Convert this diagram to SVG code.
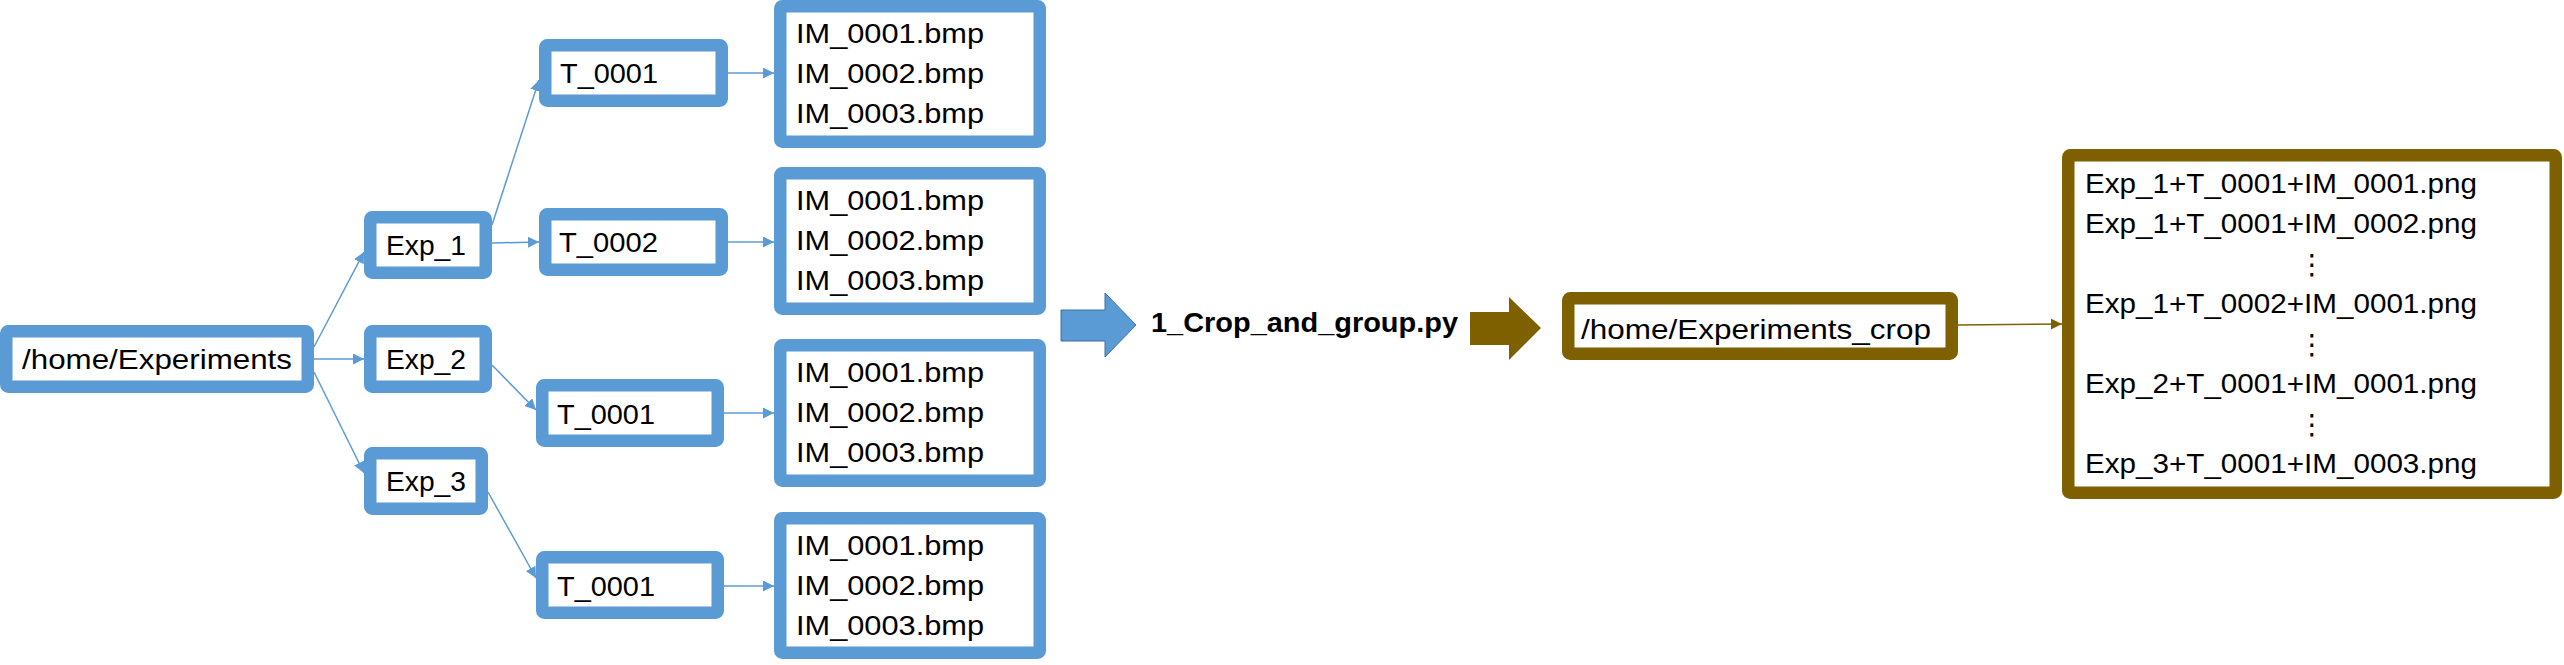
<svg xmlns="http://www.w3.org/2000/svg" width="2564" height="665" viewBox="0 0 2564 665">
<defs>
<style>
.b{fill:#fff;stroke:#5B9BD5;stroke-width:12.5}
.br{fill:#fff;stroke:#7F6000;stroke-width:12.5}
.t{font-family:"Liberation Sans",Arial,sans-serif;font-size:28px;fill:#000}
.c{fill:none;stroke:#5B9BD5;stroke-width:1.5}
.cb{fill:none;stroke:#7F6000;stroke-width:1.5}
.d{font-family:"DejaVu Sans",sans-serif;font-size:28px;fill:#000}
</style>
<marker id="ab" viewBox="0 0 10 10" refX="10" refY="5" markerWidth="11" markerHeight="11" markerUnits="userSpaceOnUse" orient="auto"><path d="M0,0 L10,5 L0,10 z" fill="#5B9BD5"/></marker>
<marker id="abr" viewBox="0 0 10 10" refX="10" refY="5" markerWidth="11" markerHeight="11" markerUnits="userSpaceOnUse" orient="auto"><path d="M0,0 L10,5 L0,10 z" fill="#7F6000"/></marker>
</defs>
<rect width="2564" height="665" fill="#fff"/>
<g id="connectors">
<line class="c" x1="314" y1="347" x2="364" y2="252" marker-end="url(#ab)"/>
<line class="c" x1="314" y1="359" x2="364" y2="359" marker-end="url(#ab)"/>
<line class="c" x1="314" y1="372" x2="364" y2="473" marker-end="url(#ab)"/>
<line class="c" x1="492" y1="225" x2="539" y2="80" marker-end="url(#ab)"/>
<line class="c" x1="492" y1="243" x2="539" y2="242" marker-end="url(#ab)"/>
<line class="c" x1="492" y1="365" x2="536" y2="410" marker-end="url(#ab)"/>
<line class="c" x1="488" y1="492" x2="536" y2="578" marker-end="url(#ab)"/>
<line class="c" x1="728" y1="73" x2="774" y2="73" marker-end="url(#ab)"/>
<line class="c" x1="728" y1="242" x2="774" y2="242" marker-end="url(#ab)"/>
<line class="c" x1="724" y1="413" x2="774" y2="413" marker-end="url(#ab)"/>
<line class="c" x1="724" y1="586" x2="774" y2="586" marker-end="url(#ab)"/>
<line class="cb" x1="1958" y1="325" x2="2062" y2="324" marker-end="url(#abr)"/>
</g>
<g id="root"><rect class="b" x="6.25" y="331.25" width="301.5" height="55.5" rx="2"/><text class="t" x="22" y="369" textLength="270" lengthAdjust="spacingAndGlyphs">/home/Experiments</text></g>
<g id="exp1"><rect class="b" x="370.25" y="217.25" width="115.5" height="55.5" rx="2"/><text class="t" x="386" y="255" textLength="80" lengthAdjust="spacingAndGlyphs">Exp_1</text></g>
<g id="exp2"><rect class="b" x="370.25" y="331.25" width="115.5" height="55.5" rx="2"/><text class="t" x="386" y="369" textLength="80" lengthAdjust="spacingAndGlyphs">Exp_2</text></g>
<g id="exp3"><rect class="b" x="370.25" y="453.25" width="111.5" height="55.5" rx="2"/><text class="t" x="386" y="491" textLength="80" lengthAdjust="spacingAndGlyphs">Exp_3</text></g>
<g id="t1_1"><rect class="b" x="545.25" y="45.25" width="176.5" height="55.5" rx="2"/><text class="t" x="560" y="83" textLength="98" lengthAdjust="spacingAndGlyphs">T_0001</text></g>
<g id="t1_2"><rect class="b" x="545.25" y="214.25" width="176.5" height="55.5" rx="2"/><text class="t" x="559" y="252" textLength="99" lengthAdjust="spacingAndGlyphs">T_0002</text></g>
<g id="t2_1"><rect class="b" x="542.25" y="385.25" width="175.5" height="55.5" rx="2"/><text class="t" x="557" y="424" textLength="98" lengthAdjust="spacingAndGlyphs">T_0001</text></g>
<g id="t3_1"><rect class="b" x="542.25" y="557.25" width="175.5" height="55.5" rx="2"/><text class="t" x="557" y="596" textLength="98" lengthAdjust="spacingAndGlyphs">T_0001</text></g>
<g id="im1"><rect class="b" x="780.25" y="6.25" width="259.5" height="135.5" rx="2"/>
<text class="t" x="796" y="43" textLength="188" lengthAdjust="spacingAndGlyphs">IM_0001.bmp</text><text class="t" x="796" y="83" textLength="188" lengthAdjust="spacingAndGlyphs">IM_0002.bmp</text><text class="t" x="796" y="123" textLength="188" lengthAdjust="spacingAndGlyphs">IM_0003.bmp</text></g>
<g id="im2"><rect class="b" x="780.25" y="173.25" width="259.5" height="135.5" rx="2"/>
<text class="t" x="796" y="210" textLength="188" lengthAdjust="spacingAndGlyphs">IM_0001.bmp</text><text class="t" x="796" y="250" textLength="188" lengthAdjust="spacingAndGlyphs">IM_0002.bmp</text><text class="t" x="796" y="290" textLength="188" lengthAdjust="spacingAndGlyphs">IM_0003.bmp</text></g>
<g id="im3"><rect class="b" x="780.25" y="345.25" width="259.5" height="135.5" rx="2"/>
<text class="t" x="796" y="382" textLength="188" lengthAdjust="spacingAndGlyphs">IM_0001.bmp</text><text class="t" x="796" y="422" textLength="188" lengthAdjust="spacingAndGlyphs">IM_0002.bmp</text><text class="t" x="796" y="462" textLength="188" lengthAdjust="spacingAndGlyphs">IM_0003.bmp</text></g>
<g id="im4"><rect class="b" x="780.25" y="518.25" width="259.5" height="134.5" rx="2"/>
<text class="t" x="796" y="555" textLength="188" lengthAdjust="spacingAndGlyphs">IM_0001.bmp</text><text class="t" x="796" y="595" textLength="188" lengthAdjust="spacingAndGlyphs">IM_0002.bmp</text><text class="t" x="796" y="635" textLength="188" lengthAdjust="spacingAndGlyphs">IM_0003.bmp</text></g>
<g id="blue-arrow"><polygon points="1061,310 1105,310 1105,293 1136,325 1105,357 1105,341 1061,341" fill="#5B9BD5" stroke="#41719C" stroke-width="1"/></g>
<g id="script"><text class="t" x="1151" y="332" font-size="28" font-weight="bold" textLength="307" lengthAdjust="spacingAndGlyphs">1_Crop_and_group.py</text></g>
<g id="brown-arrow"><polygon points="1470,312 1509,312 1509,297 1541,328 1509,360 1509,345 1470,345" fill="#7F6000"/></g>
<g id="crop"><rect class="br" x="1568.25" y="298.25" width="383.5" height="55.5" rx="2"/><text class="t" x="1581" y="339" textLength="350" lengthAdjust="spacingAndGlyphs">/home/Experiments_crop</text></g>
<g id="files"><rect class="br" x="2068.25" y="155.25" width="487.5" height="337.5" rx="2"/>
<text class="t" x="2085" y="193" font-size="27.5" textLength="392" lengthAdjust="spacingAndGlyphs">Exp_1+T_0001+IM_0001.png</text>
<text class="t" x="2085" y="233" font-size="27.5" textLength="392" lengthAdjust="spacingAndGlyphs">Exp_1+T_0001+IM_0002.png</text>
<text class="d" x="2312" y="274" text-anchor="middle">⋮</text>
<text class="t" x="2085" y="313" font-size="27.5" textLength="392" lengthAdjust="spacingAndGlyphs">Exp_1+T_0002+IM_0001.png</text>
<text class="d" x="2312" y="354" text-anchor="middle">⋮</text>
<text class="t" x="2085" y="393" font-size="27.5" textLength="392" lengthAdjust="spacingAndGlyphs">Exp_2+T_0001+IM_0001.png</text>
<text class="d" x="2312" y="434" text-anchor="middle">⋮</text>
<text class="t" x="2085" y="473" font-size="27.5" textLength="392" lengthAdjust="spacingAndGlyphs">Exp_3+T_0001+IM_0003.png</text>
</g>
</svg>
